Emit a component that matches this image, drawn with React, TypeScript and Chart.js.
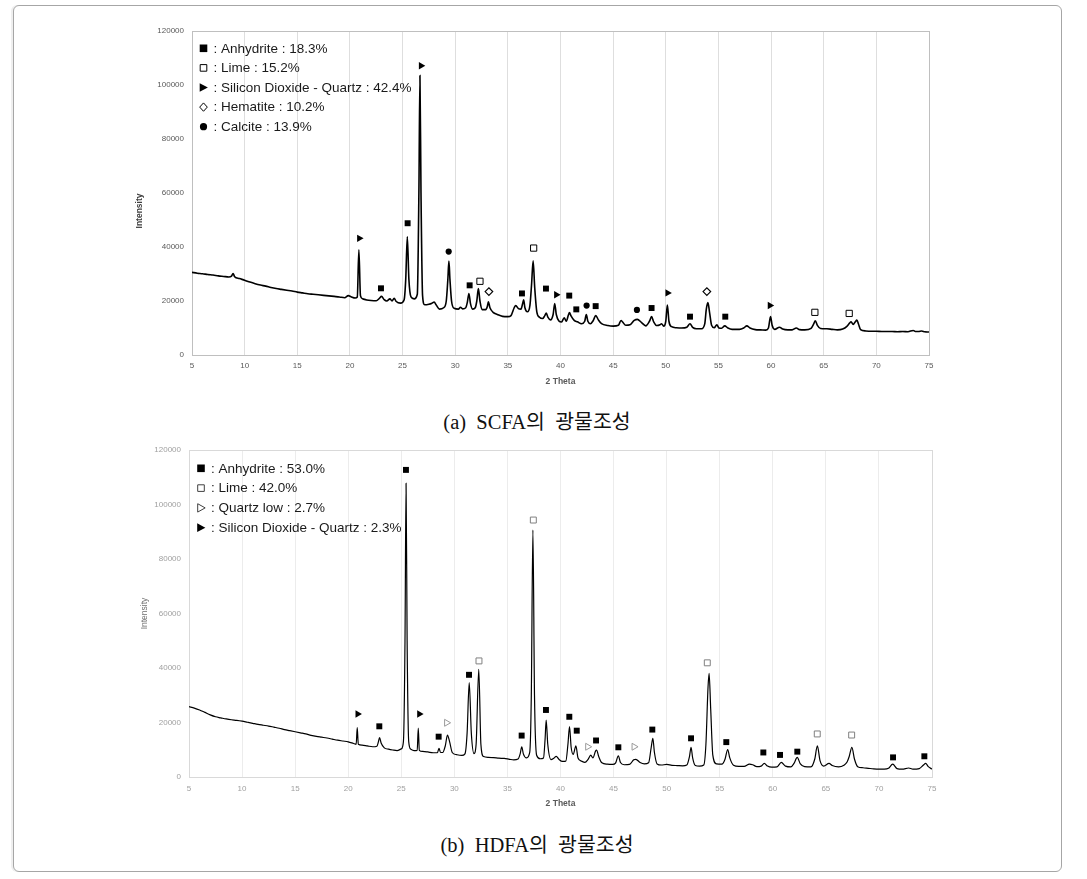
import React, { useEffect, useRef } from "react";
import { Chart, registerables } from "chart.js";

Chart.register(...registerables);

// ---------- axis ticks ----------
const X_TICKS = [5, 10, 15, 20, 25, 30, 35, 40, 45, 50, 55, 60, 65, 70, 75];
const Y_TICKS = [0, 20000, 40000, 60000, 80000, 100000, 120000];

// ---------- (a) SCFA diffraction pattern [2theta, intensity] ----------
const SCFA_PATTERN: [number, number][] = [
  [5, 30600], [5.5, 30300], [6, 30100], [6.5, 29800], [7, 29600], [7.5, 29300], [8, 29100], [8.5, 28900],
  [8.75, 29200], [8.9, 30200], [9.05, 29000], [9.5, 28300], [10, 27700], [10.5, 27000], [11, 26400],
  [11.5, 25900], [12, 25500], [12.5, 25000], [13, 24600], [13.5, 24300], [14, 24000], [14.5, 23700],
  [15, 23300], [15.5, 23000], [16, 22700], [16.5, 22500], [17, 22300], [17.5, 22100], [18, 21900],
  [18.5, 21700], [19, 21500], [19.5, 21200], [19.85, 22000], [20.1, 21600], [20.5, 21100], [20.7, 21500],
  [20.85, 39000], [21.0, 22000], [21.2, 20800], [21.6, 20400], [22, 20200], [22.5, 20100], [22.8, 21000],
  [23.0, 21700], [23.25, 20500], [23.5, 20000], [23.8, 20800], [24.0, 20000], [24.2, 21000], [24.4, 19800],
  [24.8, 19200], [25.15, 20500], [25.3, 28000], [25.45, 43800], [25.6, 28000], [25.8, 21500], [26.1, 20800],
  [26.4, 22500], [26.55, 60000], [26.65, 103500], [26.75, 60000], [26.9, 22000], [27.1, 18600], [27.5, 18800],
  [27.8, 19200], [28.0, 19600], [28.2, 18500], [28.5, 17000], [28.9, 17500], [29.15, 20000], [29.3, 28000],
  [29.4, 34800], [29.5, 28000], [29.65, 20000], [29.9, 17300], [30.3, 17000], [30.5, 17700], [30.7, 17100],
  [31.0, 17500], [31.15, 19500], [31.3, 22800], [31.45, 19000], [31.65, 17000], [31.9, 17500], [32.05, 20000],
  [32.2, 24600], [32.35, 20000], [32.55, 16800], [32.9, 16800], [33.05, 18000], [33.15, 19700], [33.3, 17500],
  [33.6, 15800], [34.0, 15000], [34.5, 14300], [35.0, 14200], [35.3, 14600], [35.6, 17500], [35.75, 18300],
  [36.0, 17200], [36.25, 17000], [36.4, 19000], [36.5, 20400], [36.62, 17500], [36.85, 16000], [37.1, 18500],
  [37.25, 26000], [37.4, 34900], [37.55, 25000], [37.75, 16000], [38.0, 14000], [38.3, 13500], [38.5, 14500],
  [38.65, 15500], [38.8, 14000], [39.05, 13000], [39.3, 15000], [39.45, 19100], [39.6, 15000], [39.85, 12600],
  [40.1, 12200], [40.35, 13800], [40.55, 12500], [40.75, 14800], [40.85, 15700], [41.0, 14500], [41.3, 12800],
  [41.6, 12300], [42.0, 11600], [42.3, 12500], [42.45, 15000], [42.6, 12500], [42.85, 11600], [43.1, 12700],
  [43.35, 14600], [43.6, 13000], [43.9, 11600], [44.5, 10900], [45.0, 10700], [45.5, 11000], [45.75, 12800],
  [45.9, 12200], [46.2, 11000], [46.6, 11200], [47.0, 12800], [47.3, 13200], [47.7, 12000], [48.1, 10800],
  [48.45, 12500], [48.65, 14200], [48.85, 12300], [49.15, 10900], [49.45, 11200], [49.6, 11600], [49.8, 10700],
  [50.0, 12500], [50.15, 18500], [50.3, 12500], [50.55, 10500], [51.0, 10100], [51.5, 10000], [52.0, 10300],
  [52.3, 11600], [52.55, 10200], [52.9, 9700], [53.4, 9700], [53.7, 11500], [53.85, 17000], [54.0, 19400],
  [54.15, 16000], [54.35, 11000], [54.6, 10100], [54.85, 11200], [55.05, 10000], [55.3, 9900], [55.6, 10800],
  [55.9, 10000], [56.3, 9500], [57.0, 9500], [57.4, 10000], [57.7, 10800], [58.0, 10000], [58.5, 9400],
  [59.0, 9300], [59.5, 9200], [59.75, 10000], [59.95, 14200], [60.1, 11000], [60.35, 9500], [60.8, 10300],
  [61.1, 9600], [61.6, 9300], [62.0, 9300], [62.4, 10000], [62.7, 9400], [63.2, 9300], [63.8, 9900],
  [64.05, 11500], [64.2, 12700], [64.4, 11000], [64.7, 9800], [65.3, 9700], [65.8, 9500], [66.3, 9300],
  [66.8, 9600], [67.2, 10600], [67.45, 11800], [67.6, 12300], [67.8, 11300], [68.0, 12300], [68.15, 12900],
  [68.3, 11500], [68.5, 9400], [69.0, 8900], [69.5, 8800], [70.0, 8800], [70.5, 8700], [71.0, 8700],
  [71.5, 8700], [72.0, 8600], [72.5, 8700], [73.0, 8600], [73.5, 9100], [73.7, 8700], [74.0, 8700],
  [74.3, 8900], [74.6, 8600], [75.0, 8500],
];

// (a) phase markers [2theta, label height]
const SCFA_ANHYDRITE: [number, number][] = [
  [22.95, 24700], [25.48, 48800], [31.37, 25800], [36.34, 22800], [38.62, 24600], [40.83, 22000],
  [41.5, 16900], [43.34, 18100], [48.65, 17400], [52.3, 14200], [55.65, 14200],
];
const SCFA_LIME: [number, number][] = [[32.35, 27300], [37.45, 39600], [64.16, 15800], [67.42, 15400]];
const SCFA_QUARTZ: [number, number][] = [[20.89, 43200], [26.75, 107100], [39.6, 22300], [50.17, 23000], [59.89, 18300]];
const SCFA_HEMATITE: [number, number][] = [[33.2, 23500], [53.9, 23500]];
const SCFA_CALCITE: [number, number][] = [[29.38, 38300], [42.48, 18300], [47.26, 16700]];

const SCFA_LEGEND = [
  ": Anhydrite : 18.3%",
  ": Lime : 15.2%",
  ": Silicon Dioxide - Quartz : 42.4%",
  ": Hematite : 10.2%",
  ": Calcite : 13.9%",
];

// ---------- (b) HDFA diffraction pattern [2theta, intensity] ----------
const HDFA_PATTERN: [number, number][] = [
  [5, 25800], [5.5, 25300], [6, 24600], [6.5, 23700], [7, 22800], [7.5, 22100], [8, 21700], [8.5, 21300],
  [9, 21000], [9.5, 20800], [10, 20500], [10.5, 20100], [11, 19700], [11.5, 19300], [12, 19000], [12.5, 18700],
  [13, 18300], [13.5, 17900], [14, 17400], [14.5, 17000], [15, 16600], [15.5, 16200], [16, 15800], [16.5, 15300],
  [17, 14900], [17.5, 14600], [18, 14300], [18.5, 13900], [19, 13500], [19.5, 13200], [20, 12900], [20.5, 12300],
  [20.75, 12000], [20.85, 18100], [20.95, 12000], [21.3, 11700], [21.8, 11400], [22.3, 11100], [22.7, 11300],
  [22.85, 13000], [22.95, 14500], [23.1, 12500], [23.4, 10700], [23.8, 10200], [24.2, 9900], [24.6, 9700],
  [25.0, 10300], [25.2, 13000], [25.35, 50000], [25.45, 107800], [25.55, 50000], [25.7, 13000], [25.9, 10200],
  [26.2, 9700], [26.5, 9800], [26.6, 17900], [26.7, 9800], [27.0, 9400], [27.5, 9200], [28.0, 8900],
  [28.4, 8900], [28.55, 10500], [28.7, 9000], [28.9, 9000], [29.15, 11500], [29.35, 15400], [29.55, 13000],
  [29.8, 9000], [30.2, 8200], [30.7, 7900], [31.0, 8500], [31.2, 16000], [31.4, 34600], [31.6, 16000],
  [31.85, 8600], [32.05, 12000], [32.3, 39500], [32.5, 12000], [32.75, 7500], [33.2, 7200], [33.7, 7100],
  [34.2, 6900], [34.7, 6800], [35.2, 6500], [35.6, 6300], [36.0, 6600], [36.2, 8500], [36.35, 11100],
  [36.5, 8500], [36.8, 7000], [37.1, 9000], [37.25, 30000], [37.4, 90600], [37.55, 30000], [37.75, 8000],
  [38.1, 6700], [38.4, 7000], [38.55, 14000], [38.65, 20900], [38.8, 12000], [39.1, 6400], [39.4, 7000],
  [39.6, 7600], [39.85, 6500], [40.2, 5700], [40.5, 5800], [40.7, 12000], [40.85, 18500], [41.0, 11000],
  [41.2, 8300], [41.45, 11400], [41.65, 7000], [42.0, 5800], [42.3, 5400], [42.6, 6500], [42.85, 8000],
  [43.05, 7000], [43.3, 9500], [43.4, 9900], [43.6, 7500], [43.9, 5200], [44.4, 4700], [44.9, 4600],
  [45.2, 5200], [45.45, 7800], [45.65, 5300], [46.0, 4500], [46.5, 4600], [46.9, 6300], [47.1, 6500],
  [47.5, 5300], [47.9, 4800], [48.3, 5200], [48.55, 11000], [48.7, 14200], [48.85, 9000], [49.1, 4800],
  [49.5, 4400], [50.0, 4600], [50.5, 4300], [51.0, 4200], [51.5, 4100], [51.9, 4400], [52.15, 7500],
  [52.3, 10900], [52.45, 7000], [52.7, 4200], [53.1, 4000], [53.5, 4400], [53.7, 12000], [53.9, 33000],
  [54.0, 38000], [54.15, 25000], [54.35, 8000], [54.7, 4800], [55.2, 4700], [55.5, 6500], [55.75, 10100],
  [55.95, 7000], [56.3, 4300], [56.8, 3900], [57.3, 3900], [57.8, 4700], [58.1, 4500], [58.5, 3800],
  [58.9, 4000], [59.2, 5000], [59.5, 4000], [59.9, 3600], [60.4, 3700], [60.8, 5400], [61.2, 4000],
  [61.7, 3700], [62.0, 5000], [62.3, 7200], [62.6, 4800], [63.0, 3800], [63.6, 3700], [63.95, 6500],
  [64.2, 11400], [64.45, 6000], [64.8, 4000], [65.3, 5000], [65.6, 4200], [66.2, 3700], [66.7, 4300],
  [67.0, 5500], [67.2, 7500], [67.45, 10900], [67.7, 6500], [68.0, 3800], [68.5, 3400], [69.0, 3200],
  [69.5, 3000], [70.0, 2900], [70.5, 2900], [70.9, 3200], [71.3, 4700], [71.7, 3100], [72.2, 2900],
  [72.8, 3300], [73.2, 2900], [73.8, 3100], [74.2, 4400], [74.4, 5000], [74.65, 3800], [75.0, 2900],
];

// (b) phase markers [2theta, label height]
const HDFA_ANHYDRITE: [number, number][] = [
  [22.93, 18600], [25.44, 112700], [28.52, 14800], [31.38, 37500], [36.34, 15200], [38.63, 24600],
  [40.83, 22100], [41.53, 17000], [43.35, 13400], [45.45, 10900], [48.65, 17400], [52.3, 14200],
  [55.62, 12800], [59.11, 9000], [60.68, 8100], [62.31, 9300], [71.33, 7200], [74.28, 7600],
];
const HDFA_LIME: [number, number][] = [[32.32, 42600], [37.44, 94300], [53.83, 41900], [64.19, 15800], [67.43, 15400]];
const HDFA_QUARTZ_LOW: [number, number][] = [[29.27, 19900], [42.56, 11100], [46.93, 11100]];
const HDFA_QUARTZ: [number, number][] = [[20.89, 23100], [26.7, 23100]];

const HDFA_LEGEND = [
  ": Anhydrite : 53.0%",
  ": Lime : 42.0%",
  ": Quartz low : 2.7%",
  ": Silicon Dioxide - Quartz : 2.3%",
];

// ---------- helpers ----------
type Sym = "square" | "squareOpen" | "triRight" | "triRightOpen" | "diamond" | "circle";

interface MarkerSet { data: [number, number][]; sym: Sym; color: string; size: number }
interface LegendItem { sym: Sym; color: string; label: string }

interface Spec {
  id: string;
  left: number; top: number; width: number; height: number;
  padTop: number; padRight: number;
  yWidth: number; xHeight: number;
  pattern: [number, number][];
  lineWidth: number;
  markers: MarkerSet[];
  legend: LegendItem[];
  legendDx: number; legendDy: number; legendGap: number;
  tickColor: string;
  gridColor: string;
  frameColor: string;
  xTickPad: number;
  yTickPad: number;
  xTitleColor: string;
  xTitlePadBottom: number;
  yTitle: { x: number; weight: string; color: string; size: number; dy: number };
}

const SANS = '"Liberation Sans", Arial, sans-serif';

function markerProps(m: MarkerSet) {
  const base: any = {
    type: "scatter",
    data: m.data.map(([x, y]) => ({ x, y })),
    showLine: false,
    pointRadius: m.size,
    pointHoverRadius: m.size,
    order: 0,
  };
  switch (m.sym) {
    case "square":
      return { ...base, pointStyle: "rect", pointBackgroundColor: m.color, pointBorderColor: m.color, pointBorderWidth: 0 };
    case "squareOpen":
      return { ...base, pointStyle: "rect", pointBackgroundColor: "#ffffff", pointBorderColor: m.color, pointBorderWidth: 1 };
    case "triRight":
      return { ...base, pointStyle: "triangle", pointRotation: 90, pointBackgroundColor: m.color, pointBorderColor: m.color, pointBorderWidth: 0 };
    case "triRightOpen":
      return { ...base, pointStyle: "triangle", pointRotation: 90, pointBackgroundColor: "#ffffff", pointBorderColor: m.color, pointBorderWidth: 1 };
    case "diamond":
      return { ...base, pointStyle: "rectRot", pointBackgroundColor: "#ffffff", pointBorderColor: m.color, pointBorderWidth: 1.2 };
    case "circle":
    default:
      return { ...base, pointStyle: "circle", pointBackgroundColor: m.color, pointBorderColor: m.color, pointBorderWidth: 0 };
  }
}

function drawSym(ctx: CanvasRenderingContext2D, sym: Sym, color: string, x: number, y: number, h: number) {
  ctx.save();
  ctx.fillStyle = color;
  ctx.strokeStyle = color;
  ctx.lineWidth = 1;
  ctx.beginPath();
  switch (sym) {
    case "square":
      ctx.rect(x - h, y - h, 2 * h, 2 * h);
      ctx.fill();
      break;
    case "squareOpen":
      ctx.rect(x - h + 0.5, y - h + 0.5, 2 * h - 1, 2 * h - 1);
      ctx.stroke();
      break;
    case "triRight":
      ctx.moveTo(x - h, y - h * 1.15);
      ctx.lineTo(x + h * 1.15, y);
      ctx.lineTo(x - h, y + h * 1.15);
      ctx.closePath();
      ctx.fill();
      break;
    case "triRightOpen":
      ctx.moveTo(x - h + 0.5, y - h * 1.1);
      ctx.lineTo(x + h * 1.1, y);
      ctx.lineTo(x - h + 0.5, y + h * 1.1);
      ctx.closePath();
      ctx.stroke();
      break;
    case "diamond":
      ctx.moveTo(x, y - h * 1.1);
      ctx.lineTo(x + h, y);
      ctx.lineTo(x, y + h * 1.1);
      ctx.lineTo(x - h, y);
      ctx.closePath();
      ctx.stroke();
      break;
    case "circle":
      ctx.arc(x, y, h * 0.95, 0, Math.PI * 2);
      ctx.fill();
      break;
  }
  ctx.restore();
}

function XrdChart({ spec }: { spec: Spec }) {
  const ref = useRef<HTMLCanvasElement | null>(null);

  useEffect(() => {
    const canvas = ref.current;
    if (!canvas) return;
    const s = spec;

    const framePlugin = {
      id: "frame_" + s.id,
      beforeDatasetsDraw(chart: any) {
        const { ctx, chartArea } = chart;
        ctx.save();
        ctx.strokeStyle = s.frameColor;
        ctx.lineWidth = 1;
        ctx.strokeRect(
          Math.round(chartArea.left) + 0.5,
          Math.round(chartArea.top) + 0.5,
          Math.round(chartArea.right - chartArea.left),
          Math.round(chartArea.bottom - chartArea.top)
        );
        ctx.restore();
      },
    };

    const annotPlugin = {
      id: "annot_" + s.id,
      afterDraw(chart: any) {
        const { ctx, chartArea } = chart;
        // legend block inside the plot area
        ctx.save();
        ctx.font = `13.5px ${SANS}`;
        ctx.fillStyle = "#1a1a1a";
        ctx.textBaseline = "middle";
        ctx.textAlign = "left";
        s.legend.forEach((it, i) => {
          const cx = chartArea.left + s.legendDx;
          const cy = chartArea.top + s.legendDy + i * s.legendGap;
          drawSym(ctx, it.sym, it.color, cx, cy, 3.8);
          ctx.fillText(it.label, cx + 10, cy + 0.5);
        });
        ctx.restore();
        // y axis title
        ctx.save();
        ctx.font = `${s.yTitle.weight} ${s.yTitle.size}px ${SANS}`;
        ctx.fillStyle = s.yTitle.color;
        ctx.textAlign = "center";
        ctx.textBaseline = "middle";
        ctx.translate(s.yTitle.x, (chartArea.top + chartArea.bottom) / 2 + s.yTitle.dy);
        ctx.rotate(-Math.PI / 2);
        ctx.fillText("Intensity", 0, 0);
        ctx.restore();
      },
    };

    const datasets: any[] = [
      {
        type: "scatter",
        data: s.pattern.map(([x, y]) => ({ x, y })),
        showLine: true,
        borderColor: "#000000",
        borderWidth: s.lineWidth,
        pointRadius: 0,
        pointHoverRadius: 0,
        cubicInterpolationMode: "monotone",
        fill: false,
        order: 1,
      },
      ...s.markers.map(markerProps),
    ];

    const chart = new Chart(canvas, {
      type: "scatter",
      data: { datasets },
      options: {
        animation: false,
        responsive: false,
        maintainAspectRatio: false,
        devicePixelRatio: 1,
        events: [],
        layout: { padding: { left: 0, top: s.padTop, right: s.padRight, bottom: 0 } },
        plugins: {
          legend: { display: false },
          tooltip: { enabled: false },
          title: { display: false },
        },
        scales: {
          x: {
            type: "linear",
            min: 5,
            max: 75,
            afterBuildTicks: (sc: any) => {
              sc.ticks = X_TICKS.map((v) => ({ value: v }));
            },
            afterFit: (sc: any) => {
              sc.height = s.xHeight;
            },
            grid: { display: true, color: s.gridColor, lineWidth: 1, drawTicks: false },
            border: { display: false },
            ticks: {
              autoSkip: false,
              maxRotation: 0,
              padding: s.xTickPad,
              color: s.tickColor,
              font: { family: SANS, size: 8 },
              callback: (v: any) => String(v),
            },
            title: {
              display: true,
              text: "2 Theta",
              color: s.xTitleColor,
              font: { family: SANS, size: 8.5, weight: "bold" },
              padding: { top: 0, bottom: s.xTitlePadBottom },
            },
          },
          y: {
            type: "linear",
            min: 0,
            max: 120000,
            afterBuildTicks: (sc: any) => {
              sc.ticks = Y_TICKS.map((v) => ({ value: v }));
            },
            afterFit: (sc: any) => {
              sc.width = s.yWidth;
            },
            grid: { display: false, drawTicks: false },
            border: { display: false },
            ticks: {
              padding: s.yTickPad,
              color: s.tickColor,
              font: { family: SANS, size: 8 },
              callback: (v: any) => String(v),
            },
            title: { display: false },
          },
        },
      } as any,
      plugins: [framePlugin, annotPlugin],
    });

    return () => {
      chart.destroy();
    };
  }, [spec]);

  return (
    <canvas
      ref={ref}
      width={spec.width}
      height={spec.height}
      style={{ position: "absolute", left: spec.left, top: spec.top, width: spec.width, height: spec.height }}
    />
  );
}

const SPEC_A: Spec = {
  id: "a",
  left: 130, top: 15, width: 830, height: 380,
  padTop: 16, padRight: 31,
  yWidth: 62, xHeight: 40,
  pattern: SCFA_PATTERN,
  lineWidth: 1.6,
  markers: [
    { data: SCFA_ANHYDRITE, sym: "square", color: "#000000", size: 4.2 },
    { data: SCFA_LIME, sym: "squareOpen", color: "#000000", size: 4.4 },
    { data: SCFA_QUARTZ, sym: "triRight", color: "#000000", size: 4.3 },
    { data: SCFA_HEMATITE, sym: "diamond", color: "#000000", size: 3.8 },
    { data: SCFA_CALCITE, sym: "circle", color: "#000000", size: 3.1 },
  ],
  legend: [
    { sym: "square", color: "#000000", label: SCFA_LEGEND[0] },
    { sym: "squareOpen", color: "#000000", label: SCFA_LEGEND[1] },
    { sym: "triRight", color: "#000000", label: SCFA_LEGEND[2] },
    { sym: "diamond", color: "#000000", label: SCFA_LEGEND[3] },
    { sym: "circle", color: "#000000", label: SCFA_LEGEND[4] },
  ],
  legendDx: 11.5, legendDy: 17.3, legendGap: 19.6,
  tickColor: "#595959",
  gridColor: "#dedede",
  frameColor: "#bfbfbf",
  xTickPad: 6,
  yTickPad: 8,
  xTitleColor: "#595959",
  xTitlePadBottom: 8,
  yTitle: { x: 10, weight: "bold", color: "#404040", size: 8.5, dy: 18 },
};

const SPEC_B: Spec = {
  id: "b",
  left: 130, top: 435, width: 830, height: 380,
  padTop: 15, padRight: 28,
  yWidth: 59, xHeight: 38,
  pattern: HDFA_PATTERN,
  lineWidth: 1.2,
  markers: [
    { data: HDFA_ANHYDRITE, sym: "square", color: "#000000", size: 4.2 },
    { data: HDFA_LIME, sym: "squareOpen", color: "#808080", size: 4.2 },
    { data: HDFA_QUARTZ_LOW, sym: "triRightOpen", color: "#9a9a9a", size: 4.0 },
    { data: HDFA_QUARTZ, sym: "triRight", color: "#000000", size: 4.3 },
  ],
  legend: [
    { sym: "square", color: "#000000", label: HDFA_LEGEND[0] },
    { sym: "squareOpen", color: "#404040", label: HDFA_LEGEND[1] },
    { sym: "triRightOpen", color: "#404040", label: HDFA_LEGEND[2] },
    { sym: "triRight", color: "#000000", label: HDFA_LEGEND[3] },
  ],
  legendDx: 12, legendDy: 18.3, legendGap: 19.8,
  tickColor: "#a0a0a0",
  gridColor: "#ececec",
  frameColor: "#d9d9d9",
  xTickPad: 7,
  yTickPad: 8,
  xTitleColor: "#595959",
  xTitlePadBottom: 6,
  yTitle: { x: 15, weight: "normal", color: "#707070", size: 8.5, dy: 0 },
};

const captionStyle = (top: number): React.CSSProperties => ({
  position: "absolute",
  left: 287,
  top,
  width: 500,
  textAlign: "center",
  whiteSpace: "pre",
  fontFamily: '"Liberation Serif", "Times New Roman", "Noto Sans CJK KR", serif',
  fontSize: 20.5,
  lineHeight: "24px",
  color: "#111111",
});

export default function App() {
  return (
    <div style={{ position: "absolute", left: 0, top: 0, width: 1087, height: 879, background: "#ffffff", overflow: "hidden" }}>
      <div
        style={{
          position: "absolute",
          left: 13,
          top: 5,
          width: 1047,
          height: 865,
          border: "1px solid #a6a6a6",
          borderRadius: 6,
          boxShadow: "-2px 0 0 #efefef",
          background: "#ffffff",
        }}
      />
      <XrdChart spec={SPEC_A} />
      <div style={captionStyle(410)}>{"(a)  SCFA의  광물조성"}</div>
      <XrdChart spec={SPEC_B} />
      <div style={captionStyle(833)}>{"(b)  HDFA의  광물조성"}</div>
    </div>
  );
}
